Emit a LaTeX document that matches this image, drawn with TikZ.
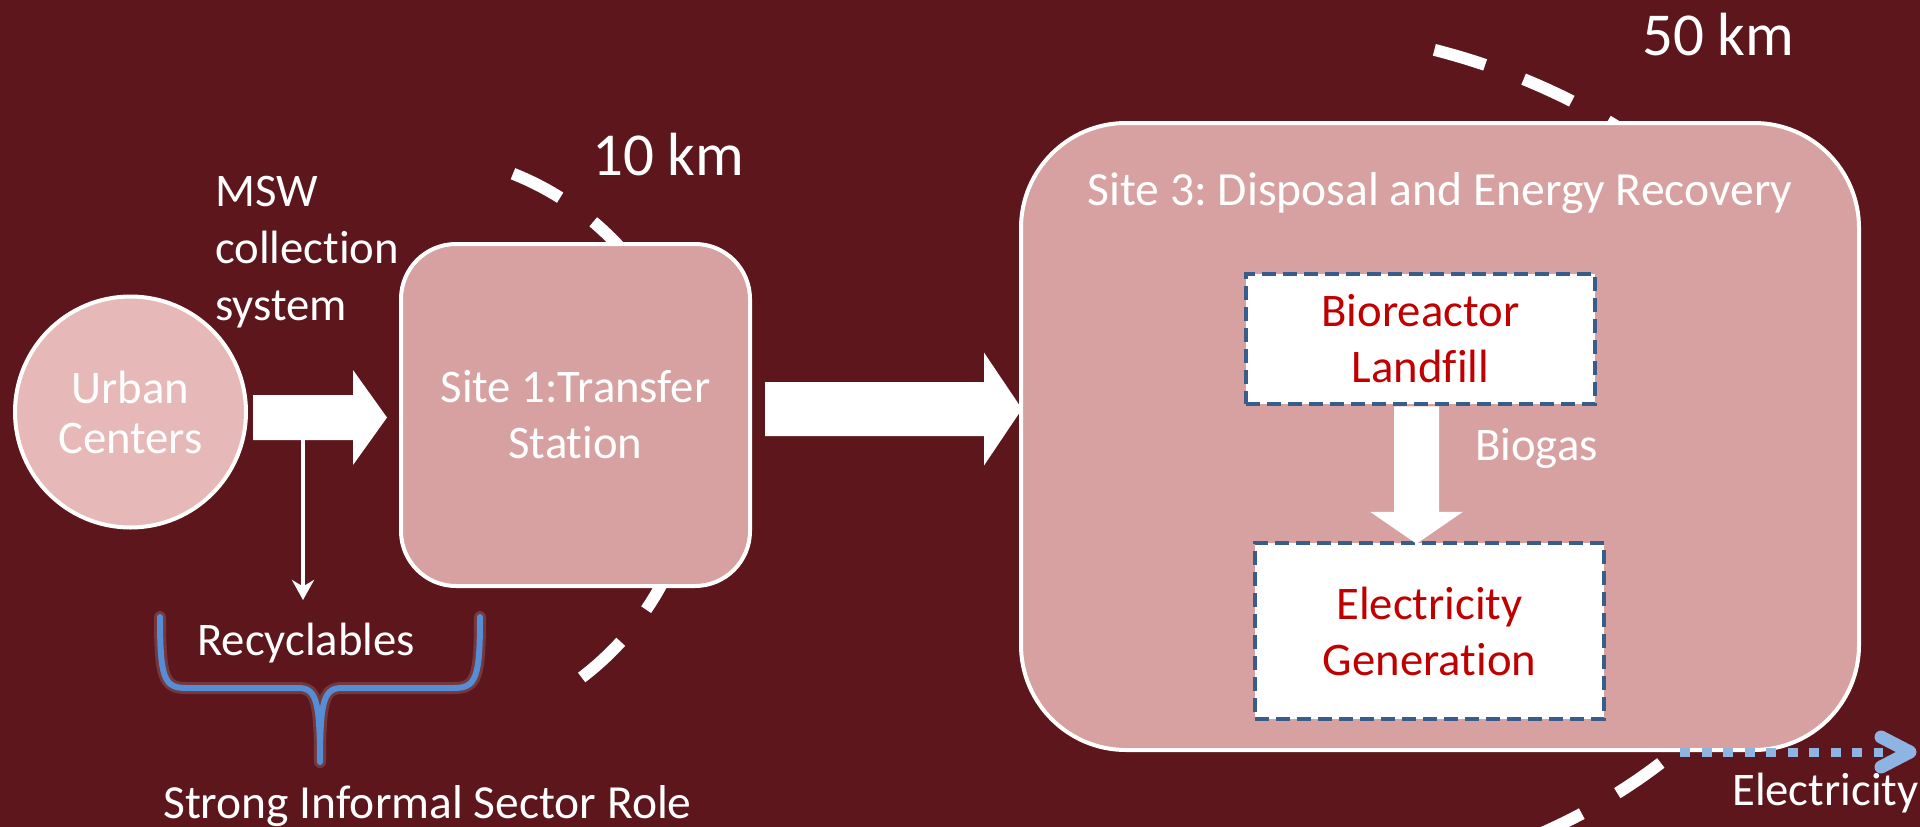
\documentclass[tikz,border=0pt]{standalone}
\usepackage{fontspec}
\setmainfont{Carlito}[Ligatures=NoCommon]
\usetikzlibrary{calc,arrows.meta}
\frenchspacing
\definecolor{bgred}{RGB}{93,22,27}
\definecolor{circfill}{RGB}{230,184,183}
\definecolor{boxfill}{RGB}{216,161,161}
\definecolor{dashblue}{RGB}{56,93,138}
\definecolor{darkred}{RGB}{192,0,0}
\definecolor{bracketblue}{RGB}{85,142,213}
\definecolor{elecblue}{RGB}{141,180,226}
\newcommand{\hblock}[5]{\fill[white] let \p1=(#1), \p2=(#2) in (\x1,\y1+#3pt) -- (\x2-#5pt,\y1+#3pt) -- (\x2-#5pt,\y1+#4pt) -- (\x2,\y1) -- (\x2-#5pt,\y1-#4pt) -- (\x2-#5pt,\y1-#3pt) -- (\x1,\y1-#3pt) -- cycle;}
\newcommand{\vblock}[5]{\fill[white] let \p1=(#1), \p2=(#2) in (\x1-#3pt,\y1) -- (\x1-#3pt,\y2+#5pt) -- (\x1-#4pt,\y2+#5pt) -- (\x1,\y2) -- (\x1+#4pt,\y2+#5pt) -- (\x1+#3pt,\y2+#5pt) -- (\x1+#3pt,\y1) -- cycle;}
\begin{document}
\begin{tikzpicture}[x=1pt,y=-1pt,
  lbl/.style={text=white, inner sep=0pt, font=\fontsize{46.7}{57}\selectfont\frenchspacing},
  bigkm/.style={text=white, inner sep=0pt, font=\fontsize{61}{70}\selectfont},
  sitebox/.style={rectangle, draw=white, line width=4pt, fill=boxfill, text=white, align=center, inner sep=0pt, font=\fontsize{46.7}{56}\selectfont\frenchspacing},
  innerbox/.style={rectangle, draw=dashblue, line width=4.5pt, dash pattern=on 14pt off 7pt, fill=white, text=darkred, align=center, inner sep=0pt, font=\fontsize{46.7}{56}\selectfont},
  kmring/.style={white, line width=12pt, dash pattern=on 53pt off 41pt}
]
\useasboundingbox (0,0) rectangle (1920,827);
\fill[bgred] (0,0) rectangle (1920,827);
\begin{scope}
\clip (0,0) rectangle (1920,827);
% 10 km ring
\draw[kmring] plot[domain=0:1, samples=150, variable=\t] ({405+292*cos(68.3-121.4*\t)}, {445-292*sin(68.3-121.4*\t)});
% 50 km ring
\draw[kmring] plot[domain=0:1, samples=100, variable=\t] ({1250+575*cos(71.3-41.3*\t)}, {460-433*sin(71.3-41.3*\t)});
\draw[kmring] plot[domain=0:1, samples=100, variable=\t] ({1250+575*cos(-44.4-35.6*\t)}, {460-433*sin(-44.4-35.6*\t)});

% nodes
\node[sitebox, minimum width=349pt, minimum height=342pt, rounded corners=55pt] (site1) at (575.5,415) {Site 1:Transfer\\Station};
\node[sitebox, minimum width=838pt, minimum height=627pt, rounded corners=105pt] (site3) at (1440,436.5) {};
\node[circle, draw=white, line width=4pt, fill=circfill, minimum size=231pt, inner sep=0pt, text=white, align=center, font=\fontsize{46.7}{50}\selectfont] (urban) at (130.5,412) {Urban\\Centers};
\node[innerbox, minimum width=349pt, minimum height=130pt] (bio) at (1420.5,339) {Bioreactor\\Landfill};
\node[innerbox, minimum width=349pt, minimum height=176pt] (elec) at (1429.5,631) {Electricity\\Generation};

% labels
\node[lbl, anchor=base, font=\fontsize{47.6}{57}\selectfont\frenchspacing] (site3title) at (1440,205) {Site 3: Disposal and Energy Recovery};
\node[lbl, anchor=west, align=left] (msw) at (215,252) {MSW\\collection\\system};
\node[bigkm, anchor=base west] (km10) at (592,175) {10 km};
\node[bigkm, anchor=base west] (km50) at (1642,55) {50 km};
\node[lbl, anchor=base west] (biogas) at (1475,460) {Biogas};
\node[lbl, anchor=base west] (recyc) at (197,655) {Recyclables};
\node[lbl, anchor=base west, font=\fontsize{47.5}{57}\selectfont] (informal) at (163,818) {Strong Informal Sector Role};
\node[lbl, anchor=base west] (electxt) at (1732,805) {Electricity};

% block arrows
\coordinate (a1s) at ($(urban.east)+(5,5.5)$);
\coordinate (a1e) at ($(site1.west)+(-12,2.5)$);
\hblock{a1s}{a1e}{22.5}{47.5}{34}
\coordinate (a2s) at ($(site1.east)+(13,-6)$);
\coordinate (a2e) at ($(site3.west)+(3,-27.5)$);
\hblock{a2s}{a2e}{27}{56.5}{38}
\coordinate (gs) at ($(bio.south)+(-4,0)$);
\coordinate (ge) at ($(elec.north)+(-12.5,3)$);
\vblock{gs}{ge}{22.5}{46.5}{32}

% recyclables split
\coordinate (split) at ($(a1s)+(50,22.5)$);
\coordinate (rectip) at ($(split)+(0,160)$);
\draw[white, line width=4pt, -{Stealth[length=20pt,width=22pt]}] (split) -- (rectip);

% brace
\coordinate (brL) at (160,617);
\coordinate (brR) at (480,617);
\coordinate (brTip) at (320,762);
\foreach \w/\c/\o in {12/white/0.15, 6/bracketblue/1}{
\draw[\c, line width=\w pt, opacity=\o, line cap=round, line join=round]
  (brL) .. controls (160,678) and (164,688) .. (186,688) -- (298,688)
  .. controls (316,688) and (320,700) .. (brTip)
  .. controls (320,700) and (324,688) .. (342,688) -- (454,688)
  .. controls (476,688) and (480,678) .. (brR);
}

% electricity output
\coordinate (es) at ($(site3.south)+(240,0)$);
\coordinate (ee) at ($(es)+(203,0)$);
\draw[elecblue, line width=9pt, dash pattern=on 10pt off 11.5pt] (es) -- (ee);
\draw[elecblue, line width=13pt, line cap=round, line join=round] ($(ee)+(-2,-15)$) -- ($(ee)+(27,0)$) -- ($(ee)+(-2,15)$);
\end{scope}
\end{tikzpicture}
\end{document}
